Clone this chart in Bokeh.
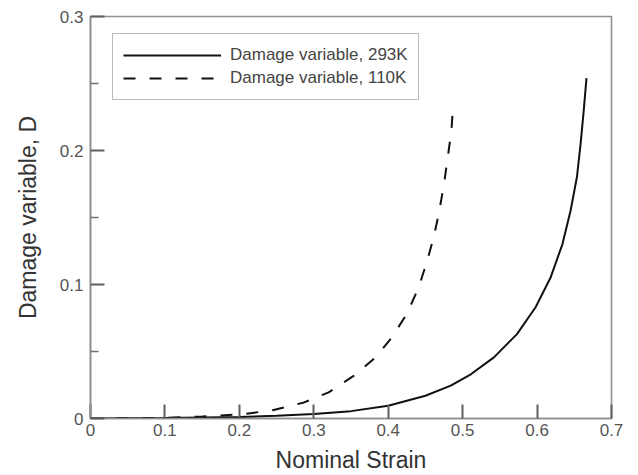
from bokeh.plotting import figure
from bokeh.models import (Range1d, FixedTicker, CustomJSTickFormatter, Legend,
                          LegendItem, ColumnDataSource)
from bokeh.embed import file_html
from bokeh.resources import INLINE

# ---- data ----
strain_293 = [0, 0.1, 0.2, 0.25, 0.3, 0.35, 0.4, 0.45, 0.484, 0.511, 0.542,
              0.573, 0.598, 0.618, 0.634, 0.645, 0.6535, 0.6585, 0.6627, 0.6664]
damage_293 = [0, 0.0003, 0.0012, 0.002, 0.0033, 0.0055, 0.0095, 0.017, 0.0245,
              0.033, 0.0456, 0.063, 0.083, 0.105, 0.130, 0.155, 0.180, 0.205,
              0.230, 0.254]

strain_110 = [0, 0.1, 0.15, 0.206, 0.246, 0.287, 0.320, 0.354, 0.383, 0.405,
              0.425, 0.441, 0.452, 0.461, 0.468, 0.475, 0.480, 0.485, 0.487]
damage_110 = [0, 0.0005, 0.0015, 0.0033, 0.0063, 0.012, 0.0195, 0.032, 0.0456,
              0.0606, 0.078, 0.098, 0.117, 0.135, 0.153, 0.175, 0.195, 0.215,
              0.233]

x_ticks = [0, 0.1, 0.2, 0.3, 0.4, 0.5, 0.6, 0.7]
y_ticks = [0, 0.1, 0.2, 0.3]
y_minor = [0.05, 0.15, 0.25]
label_293 = "Damage variable, 293K"
label_110 = "Damage variable, 110K"
x_title = "Nominal Strain"
y_title = "Damage variable, D"

FONT = "Liberation Sans"
GRAY = "#8f8f8f"
TICKC = "#555555"
TITLEC = "#333333"

p = figure(width=638, height=475, x_range=Range1d(0, 0.7), y_range=Range1d(0, 0.3),
           output_backend="svg", toolbar_location=None,
           min_border_left=90, min_border_right=27, min_border_top=16,
           min_border_bottom=57)
p.background_fill_color = "white"
p.border_fill_color = "white"
p.grid.visible = False
p.outline_line_color = GRAY
p.outline_line_width = 1.6

fmt = CustomJSTickFormatter(code="return tick == 0 ? '0' : tick.toFixed(1);")

for ax in (p.xaxis[0], p.yaxis[0]):
    ax.axis_line_color = GRAY
    ax.axis_line_width = 1.6
    ax.major_tick_line_color = "#5e5e5e"
    ax.major_tick_line_width = 2
    ax.minor_tick_line_color = "#707070"
    ax.minor_tick_line_width = 1.6
    ax.major_tick_in = 14
    ax.major_tick_out = 0
    ax.minor_tick_in = 8
    ax.minor_tick_out = 0
    ax.major_label_text_font = FONT
    ax.major_label_text_font_size = "17px"
    ax.major_label_text_color = TICKC
    ax.formatter = fmt
    ax.axis_label_text_font = FONT
    ax.axis_label_text_font_style = "normal"
    ax.axis_label_text_color = TITLEC

xa = p.xaxis[0]
xa.ticker = FixedTicker(ticks=x_ticks)
xa.minor_tick_line_color = None
xa.major_label_standoff = 5
xa.axis_label = x_title
xa.axis_label_text_font_size = "23px"
xa.axis_label_standoff = 8

ya = p.yaxis[0]
ya.ticker = FixedTicker(ticks=y_ticks, minor_ticks=y_minor)
ya.major_label_standoff = 7
ya.axis_label = y_title
ya.axis_label_text_font_size = "23px"
ya.axis_label_standoff = 16

src293 = ColumnDataSource(dict(x=strain_293, y=damage_293))
src110 = ColumnDataSource(dict(x=strain_110, y=damage_110))
r293 = p.line("x", "y", source=src293, line_color="#111111", line_width=2)
r110 = p.line("x", "y", source=src110, line_color="#111111", line_width=2,
              line_dash="12 14")

legend = Legend(items=[LegendItem(label=label_293, renderers=[r293]),
                       LegendItem(label=label_110, renderers=[r110])],
                location=(22, 318), margin=0, padding=10, spacing=1,
                glyph_width=98, glyph_height=22, label_height=22,
                label_standoff=9, label_text_font=FONT,
                label_text_font_size="17px", label_text_color="#444444",
                border_line_color="#777777", border_line_width=1.5,
                background_fill_color="white", background_fill_alpha=1)
p.add_layout(legend)

open("out.html", "w").write(file_html(p, INLINE))
